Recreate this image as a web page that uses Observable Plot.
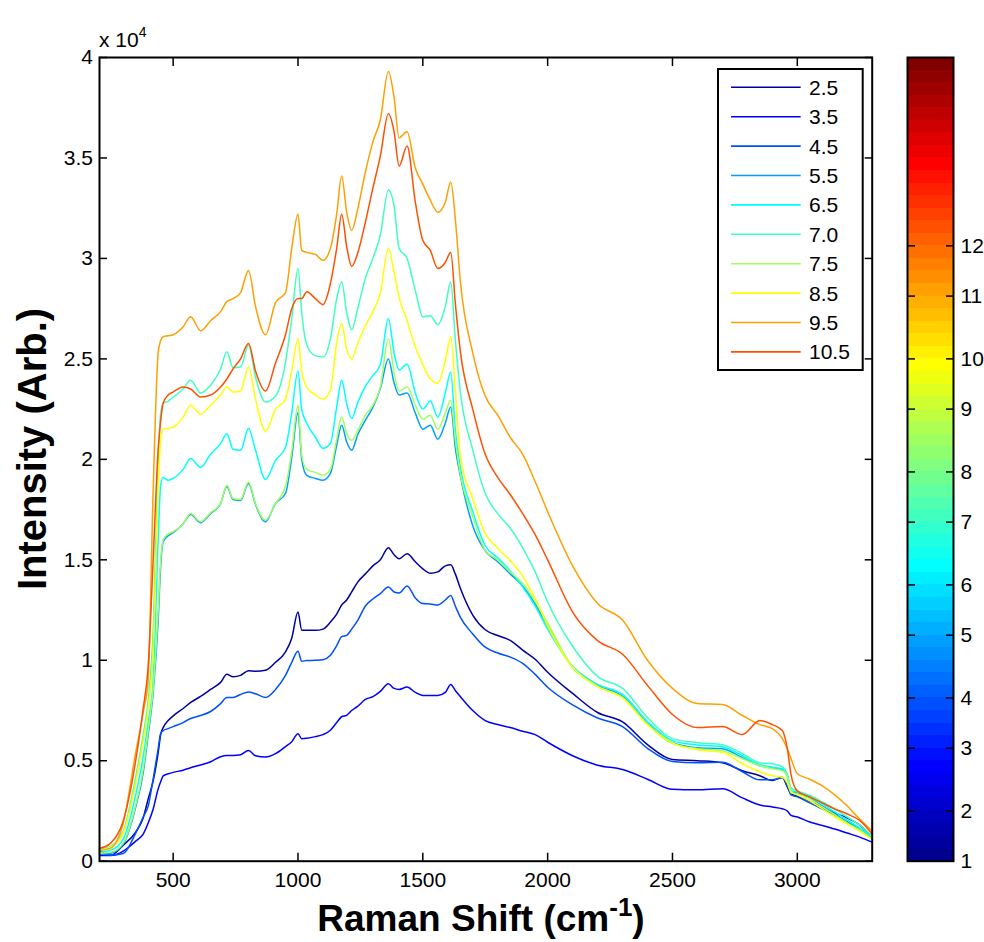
<!DOCTYPE html>
<html><head><meta charset="utf-8">
<script src="https://cdn.jsdelivr.net/npm/d3@7"></script>
<script src="https://cdn.jsdelivr.net/npm/@observablehq/plot@0.6"></script>
<style>
html,body{margin:0;padding:0;background:#fff;}
#wrap{position:relative;width:984px;height:942px;overflow:hidden;background:#fff;}
#wrap svg{position:absolute;left:0;top:0;}
</style></head><body><div id="wrap"></div>
<script>
// ---------------- data ----------------
const ramanShift = [205,250,300,350,380,400,420,440,450,460,
 480,500,540,570,610,650,690,715,740,770,
 802,830,870,910,950,975,1000,1015,1035,1070,
 1100,1130,1155,1175,1195,1215,1240,1270,1300,1330,
 1362,1385,1405,1437,1470,1500,1530,1560,1590,1612,
 1630,1650,1700,1750,1800,1850,1900,1950,2000,2100,
 2200,2300,2400,2500,2600,2700,2780,2850,2900,2940,
 2960,2975,3000,3050,3100,3150,3200,3250,3300];

const phLabels = ["2.5","3.5","4.5","5.5","6.5","7.0","7.5","8.5","9.5","10.5"];

const ph25 = [530,300,800,1450,2150,3100,4000,5400,6300,6650,
 7000,7230,7600,7900,8200,8550,8900,9300,9180,9250,
 9480,9450,9500,9900,10420,11100,12400,11500,11490,11490,
 11550,11900,12300,12750,13000,13400,13900,14300,14700,15000,
 15600,15250,15050,15300,14900,14550,14330,14400,14700,14750,
 14300,13600,12250,11520,11230,10990,10510,10050,9400,8350,
 7400,6930,5800,5060,5000,4900,4500,4250,4020,4180,
 3700,3350,3240,2980,2700,2400,2150,1800,1200];

const ph35 = [280,280,500,1000,1350,1900,2600,3600,3950,4250,
 4350,4420,4530,4650,4790,4950,5200,5260,5260,5300,
 5510,5250,5180,5350,5700,5950,6340,6100,6120,6200,
 6300,6520,6900,7190,7260,7500,7720,8050,8190,8450,
 8830,8600,8550,8670,8400,8250,8250,8250,8400,8800,
 8500,8200,7500,7000,6800,6650,6470,6300,5920,5250,
 4780,4560,4080,3575,3550,3600,3150,2800,2700,2610,
 2500,2280,2200,1950,1780,1600,1400,1200,950];

const ph45 = [370,300,380,1400,2200,2750,4100,5600,6350,6500,
 6600,6700,6900,7100,7250,7450,7840,8150,8150,8300,
 8420,8330,8150,8550,9250,9900,10450,9950,9990,10000,
 10030,10250,10730,11180,11240,11550,12000,12700,13050,13320,
 13650,13400,13350,13700,13100,12820,12800,12750,13000,13230,
 12700,12150,11310,10650,10360,10160,9850,9300,8660,7780,
 7130,6700,5620,4960,4900,4920,4450,4050,4050,4150,
 3750,3300,3200,2900,2600,2300,1950,1600,1150];

const ph55 = [350,400,850,2700,4400,6300,8400,12000,14700,15900,
 16200,16350,16800,17250,16850,17300,17800,18650,18000,17950,
 18800,17750,16900,17800,18300,20100,22330,20000,19200,19050,
 18960,19300,20700,21700,20870,20450,21250,21950,22600,23530,
 25000,23800,23200,23300,22300,21500,21700,21000,21800,22600,
 20600,19200,16700,15450,14900,14300,13700,12800,11700,9650,
 8750,8200,6850,5900,5650,5600,5150,4750,4650,4550,
 4300,3450,3400,3150,2750,2350,1950,1600,1150];

const ph65 = [450,550,1100,3300,5200,6900,9000,16000,18700,19100,
 18960,19050,19500,20040,19600,20250,20780,21280,20500,20450,
 21530,20450,19000,19950,20600,22300,24400,22500,21800,21100,
 20550,20800,22600,23940,22780,22030,22850,23630,24170,24720,
 27010,25300,24450,24750,23300,22500,22900,22100,23300,24350,
 21500,19620,17400,15700,15100,14450,13650,12700,11550,9700,
 8800,8300,6950,6000,5780,5700,5250,4800,4680,4600,
 4200,3500,3450,3200,2850,2450,2050,1650,1200];

const ph70 = [600,750,1500,4200,6300,8000,11500,20000,22300,22780,
 22900,23100,23500,23940,23300,23700,24500,25350,24560,24600,
 25680,24100,22850,23150,24830,27000,29500,27300,25700,25150,
 25100,26000,28000,28840,27300,26450,27550,29020,30000,31170,
 33400,32600,30500,30000,28400,27100,27150,26700,27600,28840,
 26000,23400,20470,18300,17300,16580,15600,14400,12900,10700,
 9200,8600,7150,6100,5900,5800,5350,4900,4850,4700,
 4300,3650,3500,3270,2950,2600,2200,1800,1250];

const ph75 = [400,450,900,2800,4600,6500,8600,12500,15000,16000,
 16300,16400,16800,17300,16900,17350,17800,18710,18050,18000,
 18870,17800,16970,17800,18660,20400,22690,20200,19500,19350,
 19210,19500,21000,22110,21280,20950,21450,22200,22700,23600,
 26000,24300,23400,23600,22700,22000,22200,21500,22300,22940,
 21000,19300,17150,15460,15000,14400,13830,12930,11850,9650,
 8700,8150,6800,5850,5600,5500,5100,4750,4600,4500,
 4200,3400,3350,3100,2700,2300,1900,1550,1100];

const ph85 = [550,700,1400,3900,6000,7600,10500,18500,21000,21500,
 21550,21600,22100,22690,22250,22700,23200,23600,23350,23400,
 24600,23000,21400,22500,23000,24400,26000,24400,23600,23200,
 23000,23450,25800,26760,25500,25000,25800,26650,27350,28300,
 30500,29300,28050,26900,25600,24700,24000,23800,24900,26100,
 23500,20200,18050,16300,15580,14960,14190,13060,11710,9650,
 8700,8130,6800,5890,5550,5420,4850,4450,4250,4180,
 3900,3450,3300,3000,2600,2200,1850,1500,1100];

const ph95 = [530,650,1900,5400,7400,9000,18500,25300,25900,26100,
 26150,26200,26600,27100,26400,26900,27350,27850,28000,28300,
 29400,27600,26200,27800,28300,30500,32200,30400,30300,30200,
 29900,30500,32200,34100,32300,31400,32500,34300,35800,36900,
 39300,38000,36000,36300,34500,33700,32900,32300,32800,33800,
 32000,28900,25300,23150,22200,21100,20250,18900,17400,14700,
 12830,12000,10000,8600,7850,7800,7250,6800,6600,6100,
 5600,5100,4350,4080,3750,3300,2750,2100,1500];

const ph105 = [640,900,2000,5000,7600,9700,15000,20500,21900,22800,
 23200,23350,23600,23500,23100,23200,23600,24000,24500,25000,
 25770,24400,23400,24800,26200,27500,28000,28000,28340,28000,
 27700,28750,30500,32200,30600,29600,30300,31800,33500,35100,
 37200,36300,34600,35600,32800,30900,30400,29500,29800,30300,
 27800,25400,22500,20250,19100,18250,17300,16250,15000,12400,
 10980,10300,8750,7300,6650,6700,6300,7000,6800,6500,
 5600,4300,3500,3200,2900,2600,2350,2030,1350];

const xTicks = [500,1000,1500,2000,2500,3000];
const yTicks = [0,5000,10000,15000,20000,25000,30000,35000,40000];
const colorbarTickPos = [0,4,9,13,18,22,27,31,36,40,45,49];
const colorbarTickLabels = ["1","2","3","4","5","6","7","8","9","10","11","12"];

// ---------------- styling ----------------
const FONT = "'Liberation Sans', Arial, Helvetica, sans-serif";
function jet(i) { // MATLAB jet(64), i = 1..64
  const u = k => k <= 16 ? k / 16 : (k <= 31 ? 1 : (48 - k) / 16);
  const f = k => (k >= 1 && k <= 47) ? u(k) : 0;
  const c = v => Math.round(v * 255);
  return `rgb(${c(f(i - 24))},${c(f(i - 8))},${c(f(i + 8))})`;
}
const seriesJetIndex = [2, 8, 13, 18, 24, 28, 34, 40, 46, 51];
const seriesColors = seriesJetIndex.map(jet);

const series = [ph25, ph35, ph45, ph55, ph65, ph70, ph75, ph85, ph95, ph105];
const table = [];
phLabels.forEach((lab, k) => series[k].forEach((v, i) => table.push({shift: ramanShift[i], intensity: v, ph: lab})));

const W = 984, H = 942, ML = 99, MR = 112.3, MT = 57, MB = 81.3;

const main = Plot.plot({
  width: W, height: H,
  marginLeft: ML, marginRight: MR, marginTop: MT, marginBottom: MB,
  style: {fontFamily: FONT, fontSize: "21px", color: "black", background: "white", overflow: "visible"},
  x: {domain: [205, 3300]},
  y: {domain: [0, 40000]},
  color: {domain: phLabels, range: seriesColors},
  marks: [
    Plot.line(table, {x: "shift", y: "intensity", z: "ph", stroke: "ph", strokeWidth: 1.5, curve: "monotone-x"}),
    Plot.axisX(xTicks, {anchor: "bottom", tickSize: -8, tickPadding: 19, strokeWidth: 1.5, label: null, tickFormat: d => String(d)}),
    Plot.axisX(xTicks, {anchor: "top", tickSize: -8, strokeWidth: 1.5, label: null, tickFormat: () => ""}),
    Plot.axisY(yTicks, {anchor: "left", tickSize: -8, tickPadding: 14.5, strokeWidth: 1.5, label: null, tickFormat: d => String(d / 10000)}),
    Plot.axisY(yTicks, {anchor: "right", tickSize: -8, strokeWidth: 1.5, label: null, tickFormat: () => ""}),
    Plot.frame({stroke: "black", strokeWidth: 2})
  ]
});

const cbIdx = d3.range(64);
const cb = Plot.plot({
  width: W, height: H,
  marginLeft: 907, marginRight: 31, marginTop: MT, marginBottom: MB,
  style: {fontFamily: FONT, fontSize: "21px", color: "black", background: "none", overflow: "visible"},
  x: {domain: [0, 1], axis: null},
  y: {domain: [0, 64]},
  marks: [
    Plot.rect(cbIdx, {x1: () => 0, x2: () => 1, y1: d => d, y2: d => d + 1, fill: d => jet(d + 1), shapeRendering: "crispEdges"}),
    Plot.axisY(colorbarTickPos, {anchor: "right", tickSize: -8, tickPadding: 15, strokeWidth: 1.5, label: null,
      tickFormat: d => colorbarTickLabels[colorbarTickPos.indexOf(d)]}),
    Plot.axisY(colorbarTickPos, {anchor: "left", tickSize: -8, strokeWidth: 1.5, label: null, tickFormat: () => ""}),
    Plot.frame({stroke: "black", strokeWidth: 2})
  ]
});

const wrap = document.getElementById("wrap");
wrap.appendChild(main);
wrap.appendChild(cb);

// ---------------- annotations ----------------
const svg = d3.select(main);
// exponent label
const ex = svg.append("text").attr("x", 99).attr("y", 47).attr("text-anchor", "start")
  .attr("font-family", FONT).attr("font-size", 21).attr("fill", "black");
ex.append("tspan").text("x 10");
ex.append("tspan").attr("dy", -10).attr("font-size", 14).text("4");

// axis titles
svg.append("text")
  .attr("transform", "translate(46,449) rotate(-90)")
  .attr("text-anchor", "middle").attr("font-family", FONT).attr("font-weight", "bold").attr("font-size", 40).attr("fill", "black")
  .text("Intensity (Arb.)");
const xt = svg.append("text").attr("x", 481).attr("y", 931).attr("text-anchor", "middle")
  .attr("font-family", FONT).attr("font-weight", "bold").attr("font-size", 37).attr("fill", "black");
xt.append("tspan").text("Raman Shift (cm");
xt.append("tspan").attr("dy", -15).attr("font-size", 26).text("-1");
xt.append("tspan").attr("dy", 15).text(")");

// legend
const lg = svg.append("g");
lg.append("rect").attr("x", 718).attr("y", 69).attr("width", 144.7).attr("height", 301)
  .attr("fill", "white").attr("stroke", "black").attr("stroke-width", 2);
phLabels.forEach((lab, i) => {
  const y = 87.3 + i * 29.4;
  lg.append("line").attr("x1", 731).attr("x2", 800.7).attr("y1", y).attr("y2", y)
    .attr("stroke", seriesColors[i]).attr("stroke-width", 1.6);
  lg.append("text").attr("x", 809).attr("y", y).attr("dy", "0.36em").attr("text-anchor", "start")
    .attr("font-family", FONT).attr("font-size", 21).attr("fill", "black").text(lab);
});
</script></body></html>
